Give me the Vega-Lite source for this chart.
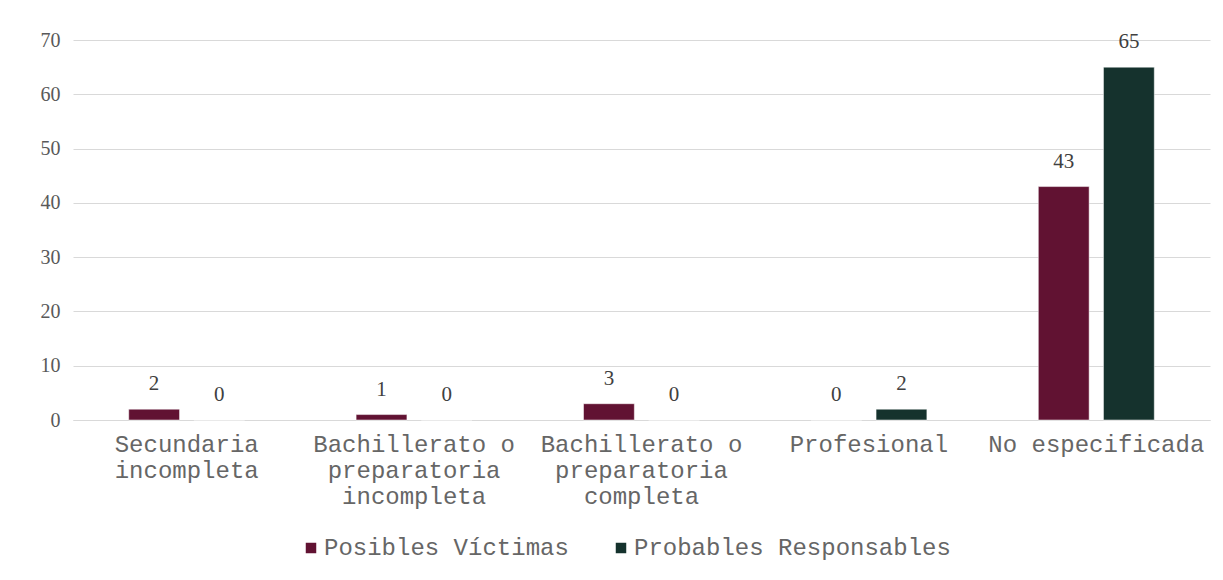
{
  "$schema": "https://vega.github.io/schema/vega-lite/v6.json",
  "width": 1137,
  "height": 380,
  "autosize": {"type": "none"},
  "padding": {"left": 73, "top": 40, "right": 13, "bottom": 160},
  "background": "white",
  "data": {
    "values": [
      {"nivel": "Secundaria incompleta", "serie": "Posibles Víctimas", "valor": 2},
      {"nivel": "Secundaria incompleta", "serie": "Probables Responsables", "valor": 0},
      {"nivel": "Bachillerato o preparatoria incompleta", "serie": "Posibles Víctimas", "valor": 1},
      {"nivel": "Bachillerato o preparatoria incompleta", "serie": "Probables Responsables", "valor": 0},
      {"nivel": "Bachillerato o preparatoria completa", "serie": "Posibles Víctimas", "valor": 3},
      {"nivel": "Bachillerato o preparatoria completa", "serie": "Probables Responsables", "valor": 0},
      {"nivel": "Profesional", "serie": "Posibles Víctimas", "valor": 0},
      {"nivel": "Profesional", "serie": "Probables Responsables", "valor": 2},
      {"nivel": "No especificada", "serie": "Posibles Víctimas", "valor": 43},
      {"nivel": "No especificada", "serie": "Probables Responsables", "valor": 65}
    ]
  },
  "encoding": {
    "x": {
      "field": "nivel",
      "type": "nominal",
      "sort": null,
      "scale": {"paddingInner": 0.49, "paddingOuter": 0.245},
      "axis": {
        "title": null,
        "labelAngle": 0,
        "labelFont": "Liberation Mono",
        "labelFontSize": 24,
        "labelColor": "#666666",
        "labelLineHeight": 26,
        "labelPadding": 12,
        "labelBaseline": "top",
        "labelLimit": 0,
        "ticks": false,
        "domainColor": "#d9d9d9",
        "domainWidth": 1,
        "labelExpr": "datum.value == 'Secundaria incompleta' ? ['Secundaria', 'incompleta'] : datum.value == 'Bachillerato o preparatoria incompleta' ? ['Bachillerato o', 'preparatoria', 'incompleta'] : datum.value == 'Bachillerato o preparatoria completa' ? ['Bachillerato o', 'preparatoria', 'completa'] : datum.value"
      }
    },
    "xOffset": {
      "field": "serie",
      "type": "nominal",
      "scale": {"paddingInner": 0.22, "paddingOuter": 0}
    },
    "y": {
      "field": "valor",
      "type": "quantitative",
      "scale": {"domain": [0, 70], "nice": false},
      "axis": {
        "title": null,
        "values": [0, 10, 20, 30, 40, 50, 60, 70],
        "labelFont": "Liberation Serif",
        "labelFontSize": 20,
        "labelColor": "#595959",
        "labelPadding": 13,
        "ticks": false,
        "domain": false,
        "gridColor": "#d9d9d9",
        "gridWidth": 1
      }
    }
  },
  "layer": [
    {
      "mark": {"type": "bar", "stroke": "#ffffff", "strokeWidth": 0.5},
      "encoding": {
        "color": {
          "field": "serie",
          "type": "nominal",
          "scale": {"domain": ["Posibles Víctimas", "Probables Responsables"], "range": ["#611232", "#15322D"]},
          "legend": {
            "title": null,
            "orient": "none",
            "direction": "horizontal",
            "legendX": 226,
            "legendY": 496,
            "symbolType": "square",
            "symbolSize": 110,
            "symbolStrokeWidth": 0,
            "symbolOpacity": 1,
            "labelFont": "Liberation Mono",
            "labelFontSize": 24,
            "labelColor": "#666666",
            "labelOffset": 1,
            "labelLimit": 0,
            "columnPadding": 40
          }
        }
      }
    },
    {
      "mark": {"type": "text", "font": "Liberation Serif", "fontSize": 21, "color": "#404040", "baseline": "alphabetic", "dy": -19},
      "encoding": {
        "text": {"field": "valor", "type": "quantitative"}
      }
    }
  ],
  "config": {
    "view": {"stroke": null}
  }
}
